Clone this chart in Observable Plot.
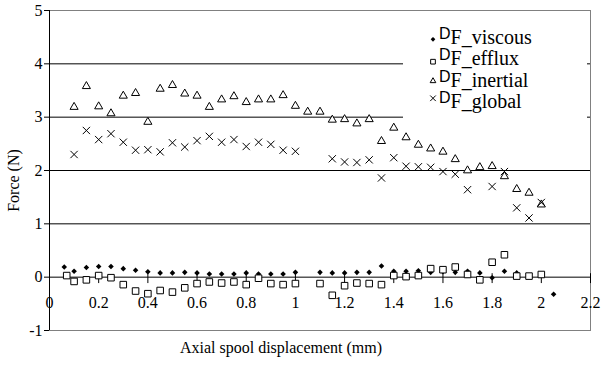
<!DOCTYPE html>
<html>
<head>
<meta charset="utf-8">
<script src="https://cdn.jsdelivr.net/npm/d3@7"></script>
<script src="https://cdn.jsdelivr.net/npm/@observablehq/plot@0.6"></script>
<style>
  body { margin: 0; background: #fff; }
  #chart { position: relative; width: 601px; height: 365px; }
  #legend { position: absolute; left: 403px; top: 13px; width: 184px; height: 116px; background: #fff; }
  #legend svg { display: block; }
</style>
</head>
<body>
<div id="chart"></div>
<script>
// Axial spool displacement (mm) for each force component, with force values (N)
const xViscous = [0.06,0.10,0.15,0.20,0.25,0.30,0.35,0.40,0.45,0.50,0.55,0.60,0.65,0.70,0.75,0.80,0.85,0.90,0.95,1.00,
                  1.10,1.15,1.20,1.25,1.30,1.35,1.40,1.45,1.50,1.55,1.60,1.65,1.70,1.75,1.80,1.85,1.90,2.05];
const viscous  = [0.19,0.11,0.18,0.20,0.20,0.16,0.13,0.10,0.08,0.08,0.09,0.08,0.06,0.06,0.06,0.08,0.06,0.06,0.06,0.09,
                  0.09,0.08,0.08,0.09,0.09,0.21,0.11,0.11,0.12,0.09,0.10,0.09,0.11,0.08,-0.01,0.11,0.08,-0.32];

const xEfflux = [0.07,0.10,0.15,0.20,0.25,0.30,0.35,0.40,0.45,0.50,0.55,0.60,0.65,0.70,0.75,0.80,0.85,0.90,0.95,1.00,
                 1.10,1.15,1.20,1.25,1.30,1.35,1.40,1.45,1.50,1.55,1.60,1.65,1.70,1.75,1.80,1.85,1.90,1.95,2.00];
const efflux  = [0.03,-0.08,-0.05,0.03,-0.01,-0.14,-0.26,-0.31,-0.25,-0.28,-0.20,-0.12,-0.09,-0.11,-0.09,-0.14,-0.02,-0.12,-0.14,-0.12,
                 -0.12,-0.34,-0.16,-0.11,-0.12,-0.14,0.03,0.01,0.03,0.16,0.14,0.19,0.05,-0.05,0.28,0.42,0.02,0.02,0.05];

const xInertial = [0.10,0.15,0.20,0.25,0.30,0.35,0.40,0.45,0.50,0.55,0.60,0.65,0.70,0.75,0.80,0.85,0.90,0.95,1.00,1.05,
                   1.10,1.15,1.20,1.25,1.30,1.35,1.40,1.45,1.50,1.55,1.60,1.65,1.70,1.75,1.80,1.85,1.90,1.95,2.00];
const inertial  = [3.19,3.58,3.20,3.07,3.40,3.45,2.91,3.53,3.60,3.44,3.40,3.19,3.33,3.39,3.28,3.33,3.33,3.41,3.21,3.10,
                   3.10,2.95,2.96,2.88,2.96,2.55,2.80,2.62,2.48,2.41,2.35,2.21,2.00,2.06,2.08,1.89,1.65,1.58,1.36];

const xGlobal = [0.10,0.15,0.20,0.25,0.30,0.35,0.40,0.45,0.50,0.55,0.60,0.65,0.70,0.75,0.80,0.85,0.90,0.95,1.00,
                 1.15,1.20,1.25,1.30,1.35,1.40,1.45,1.50,1.55,1.60,1.65,1.70,1.80,1.85,1.90,1.95,2.00];
const globalF = [2.30,2.75,2.58,2.69,2.53,2.38,2.39,2.35,2.52,2.44,2.56,2.64,2.53,2.58,2.45,2.53,2.49,2.38,2.36,
                 2.22,2.16,2.15,2.20,1.86,2.24,2.08,2.07,2.06,1.98,1.93,1.64,1.70,1.98,1.30,1.11,1.40];

const seriesNames = ["F_viscous", "F_efflux", "F_inertial", "F_global"];
const xTickValues = [0,0.2,0.4,0.6,0.8,1,1.2,1.4,1.6,1.8,2,2.2];
const xTickLabels = ["0","0.2","0.4","0.6","0.8","1","1.2","1.4","1.6","1.8","2","2.2"];
const yTickValues = [-1,0,1,2,3,4,5];
const gridValues  = [1,2,3,4];
const xTitle = "Axial spool displacement (mm)";
const yTitle = "Force (N)";

const rows = (xs, ys) => xs.map((x, i) => ({x, y: ys[i]}));
const serif = "'Liberation Serif', 'Times New Roman', Times, serif";

const plot = Plot.plot({
  width: 601,
  height: 365,
  marginLeft: 49,
  marginRight: 11,
  marginTop: 10,
  marginBottom: 35,
  style: {fontFamily: serif, fontSize: "16px", color: "#000", background: "#fff"},
  x: {domain: [0, 2.2], axis: null},
  y: {domain: [-1, 5], ticks: yTickValues, tickSize: 5, tickPadding: 2, tickFormat: d => String(d), label: null, line: false},
  marks: [
    Plot.ruleY(gridValues, {stroke: "#000", strokeWidth: 1}),
    Plot.frame({stroke: "#808080"}),
    Plot.ruleX([0], {stroke: "#000"}),
    Plot.ruleY([0], {stroke: "#000"}),
    Plot.ruleX(xTickValues, {x: d => d, y1: -0.12, y2: 0.065, stroke: "#000"}),
    Plot.text(xTickValues, {x: d => d, y: 0, dy: 26, text: (d, i) => xTickLabels[i], fill: "#000", fontSize: 16}),
    Plot.text([yTitle], {frameAnchor: "left", textAnchor: "middle", rotate: -90, dx: -36, dy: 10, fill: "#000", fontSize: 16}),
    Plot.text([xTitle], {frameAnchor: "bottom", dx: -39, dy: 22, fill: "#000", fontSize: 16}),
    Plot.dot(rows(xViscous, viscous), {x: "x", y: "y", symbol: d3.symbolDiamond2, r: 2.5, fill: "#000", stroke: "none"}),
    Plot.dot(rows(xEfflux, efflux), {x: "x", y: "y", symbol: d3.symbolSquare, r: 3.7, fill: "#fff", stroke: "#000", strokeWidth: 1}),
    Plot.dot(rows(xInertial, inertial), {x: "x", y: "y", symbol: d3.symbolTriangle, r: 3.0, fill: "#fff", stroke: "#000", strokeWidth: 1}),
    Plot.dot(rows(xGlobal, globalF), {x: "x", y: "y", symbol: d3.symbolTimes, r: 3.4, fill: "none", stroke: "#000", strokeWidth: 1})
  ]
});

const chart = document.getElementById("chart");
chart.appendChild(plot);

// Legend box in the upper right of the plot area
const legend = d3.select(chart).append("div").attr("id", "legend");
const lsvg = legend.append("svg").attr("width", 184).attr("height", 116);
const legendSymbols = [
  {symbol: d3.symbolDiamond2, size: 14, fill: "#000", stroke: "none", my: 26.3},
  {symbol: d3.symbolSquare,   size: 22, fill: "#fff", stroke: "#000", my: 48.7},
  {symbol: d3.symbolTriangle, size: 14, fill: "#fff", stroke: "#000", my: 68},
  {symbol: d3.symbolTimes,    size: 22, fill: "none", stroke: "#000", my: 85.3}
];
const baselines = [30.5, 52, 73.5, 95];
seriesNames.forEach((name, i) => {
  const s = legendSymbols[i];
  lsvg.append("path")
    .attr("d", d3.symbol(s.symbol, s.size)())
    .attr("transform", `translate(30,${s.my})`)
    .attr("fill", s.fill).attr("stroke", s.stroke).attr("stroke-width", 1);
  const t = lsvg.append("text").attr("x", 36).attr("y", baselines[i] - 5).attr("fill", "#000");
  t.append("tspan").attr("font-family", "'Liberation Sans', Arial, sans-serif").attr("font-size", "16px").text("D");
  t.append("tspan").attr("font-family", serif).attr("font-size", "20px").attr("dy", 5).text(name);
});
</script>
</body>
</html>
